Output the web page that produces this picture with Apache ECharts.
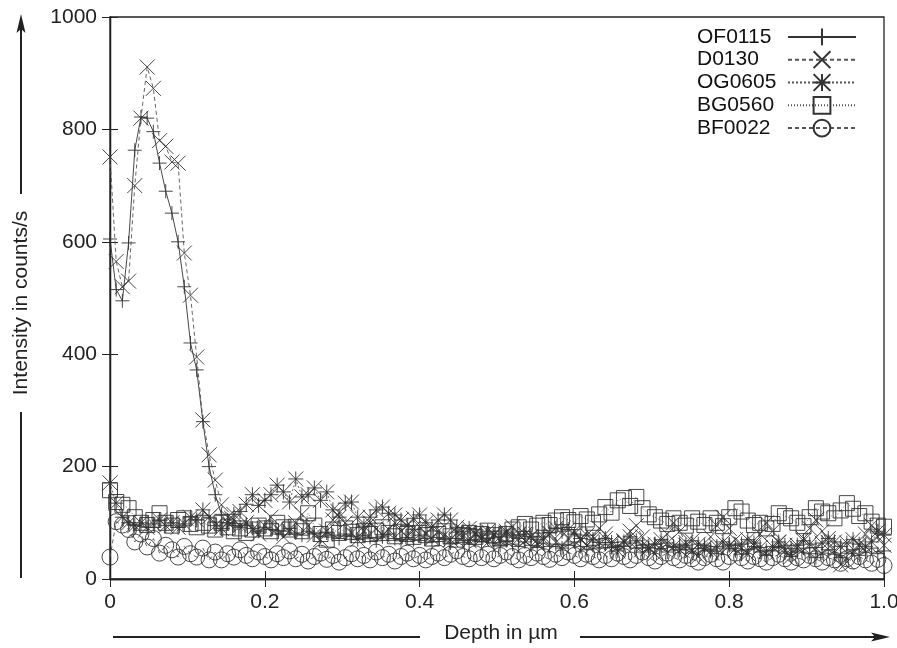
<!DOCTYPE html>
<html>
<head>
<meta charset="utf-8">
<script src="https://cdn.jsdelivr.net/npm/echarts@6/dist/echarts.min.js"></script>
<style>
html,body{margin:0;padding:0;background:#fff;}
#chart{width:897px;height:648px;}
</style>
</head>
<body>
<div id="chart"></div>
<script>
// Depth grid (µm)
const depth = [0,0.008,0.016,0.024,0.032,0.04,0.048,0.056,0.064,0.072,
0.08,0.088,0.096,0.104,0.112,0.12,0.128,0.136,0.144,0.152,
0.16,0.168,0.176,0.184,0.192,0.2,0.208,0.216,0.224,0.232,
0.24,0.248,0.256,0.264,0.272,0.28,0.288,0.296,0.304,0.312,
0.32,0.328,0.336,0.344,0.352,0.36,0.368,0.376,0.384,0.392,
0.4,0.408,0.416,0.424,0.432,0.44,0.448,0.456,0.464,0.472,
0.48,0.488,0.496,0.504,0.512,0.52,0.528,0.536,0.544,0.552,
0.56,0.568,0.576,0.584,0.592,0.6,0.608,0.616,0.624,0.632,
0.64,0.648,0.656,0.664,0.672,0.68,0.688,0.696,0.704,0.712,
0.72,0.728,0.736,0.744,0.752,0.76,0.768,0.776,0.784,0.792,
0.8,0.808,0.816,0.824,0.832,0.84,0.848,0.856,0.864,0.872,
0.88,0.888,0.896,0.904,0.912,0.92,0.928,0.936,0.944,0.952,
0.96,0.968,0.976,0.984,0.992,1.0];

const OF0115 = [605,515,495,598,763,822,820,796,740,690,
651,600,520,420,372,280,200,150,115,100,
95,92,98,90,85,92,88,80,85,90,
82,78,85,80,75,82,78,72,80,76,
70,78,74,68,75,80,72,68,74,70,
78,72,66,74,70,64,72,68,62,70,
66,72,64,60,68,62,58,66,60,56,
64,58,62,55,60,66,58,52,60,55,
62,56,50,58,64,55,48,56,62,54,
48,56,62,52,46,54,60,52,45,55,
62,50,44,52,58,48,42,50,56,46,
40,48,55,45,38,46,52,44,38,46,
52,42,48,55,45,50];

const D0130 = [751,565,520,530,700,820,911,873,780,770,
742,740,580,505,395,283,221,176,132,110,
105,95,100,88,80,95,110,90,75,85,
100,115,95,78,70,85,105,118,100,82,
70,85,100,90,78,88,100,85,75,90,
93,80,72,85,78,70,82,75,68,80,
72,65,78,70,85,93,80,68,75,62,
70,80,65,58,72,85,70,60,75,90,
80,62,50,68,85,95,75,55,45,60,
80,100,85,65,50,40,55,75,95,110,
90,70,55,45,60,80,100,85,65,50,
40,55,72,90,105,85,65,50,25,30,
45,60,80,95,75,60];

const OG0605 = [171,135,110,100,95,100,92,98,105,95,
100,92,98,110,105,123,110,95,90,100,
115,120,133,150,131,140,150,167,155,137,
178,146,150,162,140,155,123,110,135,137,
110,94,110,123,128,117,114,105,95,108,
114,100,92,105,114,105,92,85,90,82,
78,85,80,75,82,78,72,80,76,70,
75,82,90,85,88,80,72,78,70,65,
72,65,58,66,75,68,60,55,62,70,
64,58,52,60,68,62,55,50,58,66,
60,54,62,70,64,56,50,58,66,60,
54,60,68,62,56,64,72,66,58,64,
70,62,58,66,85,78];

const BG0560 = [158,137,132,126,110,100,96,105,117,100,
95,105,108,98,92,100,95,88,100,92,
85,90,82,88,95,90,85,100,92,88,
93,85,117,95,80,70,88,82,90,84,
78,85,80,86,92,82,76,84,80,75,
82,78,72,80,85,76,70,78,82,75,
80,86,78,72,80,88,92,98,88,95,
100,96,104,110,105,101,112,106,100,115,
128,118,140,144,130,146,126,115,110,104,
98,108,100,95,108,102,96,108,100,94,
110,126,120,104,96,100,90,98,117,112,
108,100,94,110,126,120,117,108,122,135,
125,112,117,102,95,93];

const BF0022 = [39,102,96,88,66,80,57,72,46,60,
52,39,58,45,39,55,34,48,34,45,
39,52,42,36,48,40,34,45,38,50,
36,44,32,40,46,35,42,30,38,45,
36,42,34,48,38,44,32,40,46,36,
42,34,40,46,38,44,50,40,36,45,
38,44,36,42,48,40,34,42,38,46,
40,35,44,38,48,42,36,44,40,34,
42,36,46,40,34,42,48,38,32,40,
46,38,34,42,36,30,38,44,36,30,
40,46,38,32,40,36,30,38,44,36,
30,38,34,42,36,30,38,34,28,36,
32,40,34,28,35,24];

const xTicks = ['0','0.2','0.4','0.6','0.8','1.0'];
const yTicks = ['0','200','400','600','800','1000'];

const FONT = '"Liberation Sans", Arial, Helvetica, sans-serif';
const INK = '#222';

function pairs(ys){ return ys.map((y,i)=>[depth[i], y]); }

const SYM = {
  plus: 'path://M0,5L10,5M5,0L5,10',
  cross: 'path://M0,0L10,10M10,0L0,10',
  star: 'path://M0,0L10,10M10,0L0,10M5,0L5,10M0,5L10,5',
  square: 'path://M0,0L10,0L10,10L0,10Z',
  circle: 'circle'
};

function mkSeries(name, ys, symbol, size, lineType, lineColor){
  return {
    name: name,
    type: 'line',
    data: pairs(ys),
    symbol: symbol,
    symbolSize: size,
    showSymbol: true,
    showAllSymbol: true,
    clip: true,
    itemStyle: {color: 'none', borderColor: '#333', borderWidth: 0.9},
    lineStyle: {color: lineColor, width: 0.9, type: lineType},
    emphasis: {disabled: true},
    z: 3
  };
}

const chart = echarts.init(document.getElementById('chart'), null, {renderer: 'canvas'});

const tickLabelStyle = {fontFamily: FONT, fontSize: 21, color: INK};

chart.setOption({
  animation: false,
  backgroundColor: '#fff',
  grid: {left: 110, right: 13, top: 17, bottom: 69, show: true, borderColor: INK, borderWidth: 1.3, containLabel: false, outerBoundsMode: 'none'},
  legend: {
    orient: 'vertical',
    align: 'right',
    right: 40,
    top: 26,
    padding: 0,
    itemWidth: 68,
    itemHeight: 21,
    itemGap: 1,
    selectedMode: false,
    formatter: '{n|{name}}',
    textStyle: {
      fontFamily: FONT, fontSize: 21, color: '#111',
      rich: {n: {width: 86, align: 'left', fontFamily: FONT, fontSize: 21, color: '#111'}}
    },
    data: ['OF0115','D0130','OG0605','BG0560','BF0022']
  },
  xAxis: [{
    type: 'value', min: 0, max: 1, interval: 0.2, position: 'bottom',
    axisLine: {show: true, lineStyle: {color: INK, width: 1.3}},
    axisTick: {show: true, inside: true, length: 8, lineStyle: {color: INK, width: 1}},
    axisLabel: {margin: 13, ...tickLabelStyle, formatter: (v)=> xTicks[Math.round(v/0.2)]},
    splitLine: {show: false}
  },{
    type: 'value', min: 0, max: 1, interval: 0.2, position: 'top',
    axisLine: {show: true, lineStyle: {color: INK, width: 1.3}},
    axisTick: {show: true, inside: true, length: 8, lineStyle: {color: INK, width: 1}},
    axisLabel: {show: false},
    splitLine: {show: false}
  }],
  yAxis: [{
    type: 'value', min: 0, max: 1000, interval: 200, position: 'left',
    axisLine: {show: true, lineStyle: {color: INK, width: 1.3}},
    axisTick: {show: true, inside: true, length: 8, lineStyle: {color: INK, width: 1}},
    axisLabel: {margin: 13, ...tickLabelStyle, formatter: (v)=> yTicks[Math.round(v/200)]},
    splitLine: {show: false}
  },{
    type: 'value', min: 0, max: 1000, interval: 200, position: 'right',
    axisLine: {show: true, lineStyle: {color: INK, width: 1.3}},
    axisTick: {show: true, inside: true, length: 8, lineStyle: {color: INK, width: 1}},
    axisLabel: {show: false},
    splitLine: {show: false}
  }],
  graphic: [
    {type: 'line', shape: {x1: 21, y1: 578, x2: 21, y2: 412}, style: {stroke: INK, lineWidth: 2}},
    {type: 'line', shape: {x1: 21, y1: 194, x2: 21, y2: 28}, style: {stroke: INK, lineWidth: 2}},
    {type: 'polygon', shape: {points: [[21,14],[16.5,33],[21,29],[25.5,33]]}, style: {fill: INK}},
    {type: 'text', x: 21, y: 303, rotation: Math.PI/2,
      style: {text: 'Intensity in counts/s', font: '21px ' + FONT, fill: INK, align: 'center', verticalAlign: 'middle'}},
    {type: 'line', shape: {x1: 113, y1: 637, x2: 420, y2: 637}, style: {stroke: INK, lineWidth: 2}},
    {type: 'line', shape: {x1: 580, y1: 637, x2: 876, y2: 637}, style: {stroke: INK, lineWidth: 2}},
    {type: 'polygon', shape: {points: [[890,637],[871,632.5],[875,637],[871,641.5]]}, style: {fill: INK}},
    {type: 'text', x: 501, y: 633,
      style: {text: 'Depth in µm', font: '21px ' + FONT, fill: INK, align: 'center', verticalAlign: 'middle'}}
  ],
  series: [
    mkSeries('OF0115', OF0115, SYM.plus, 14, 'solid', '#333'),
    mkSeries('D0130', D0130, SYM.cross, 15, [4,3], '#555'),
    mkSeries('OG0605', OG0605, SYM.star, 15, [2,2], '#555'),
    mkSeries('BG0560', BG0560, SYM.square, 15, [1,2], '#555'),
    mkSeries('BF0022', BF0022, SYM.circle, 16, [4,3], '#555')
  ]
});
</script>
</body>
</html>
